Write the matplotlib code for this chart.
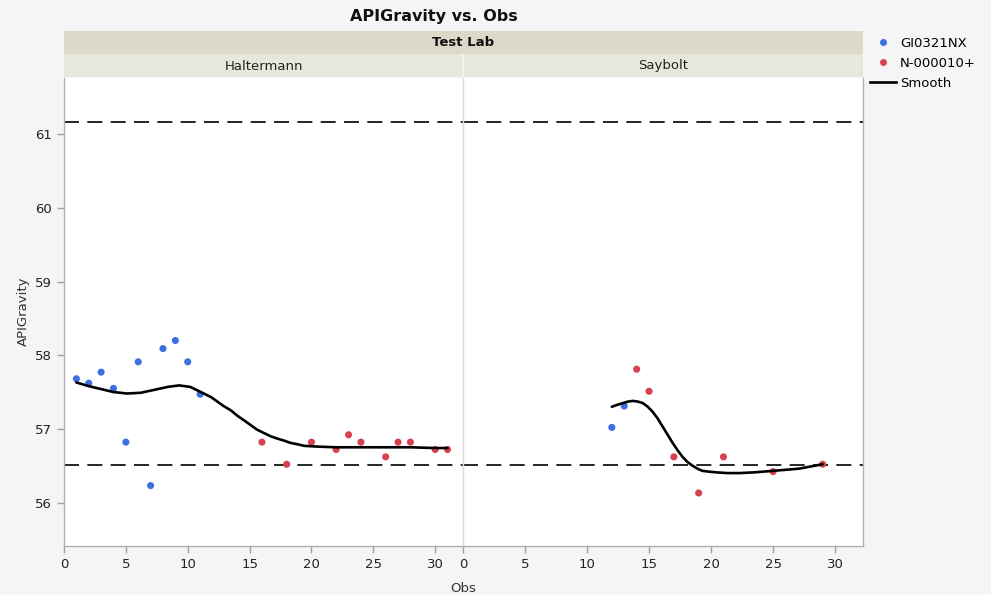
import matplotlib
matplotlib.use("Agg")
import matplotlib.pyplot as plt
from matplotlib.lines import Line2D
from matplotlib.patches import Rectangle

# ===== data =====
labs = ["Haltermann", "Saybolt"]
batches = ["GI0321NX", "N-000010+"]
colors = {"GI0321NX": "#3d6fe0", "N-000010+": "#d7404f"}

# Haltermann
halt_gi_obs = [1, 2, 3, 4, 5, 6, 7, 8, 9, 10, 11]
halt_gi_val = [57.68, 57.62, 57.77, 57.55, 56.82, 57.91, 56.23, 58.09, 58.20, 57.91, 57.47]
halt_n_obs = [16, 18, 20, 22, 23, 24, 26, 27, 28, 30, 31]
halt_n_val = [56.82, 56.52, 56.82, 56.72, 56.92, 56.82, 56.62, 56.82, 56.82, 56.72, 56.72]

# Saybolt
say_gi_obs = [12, 13]
say_gi_val = [57.02, 57.31]
say_n_obs = [14, 15, 17, 19, 21, 25, 29]
say_n_val = [57.81, 57.51, 56.62, 56.13, 56.62, 56.42, 56.52]

# smoother curves (read at points along the line)
halt_smooth_obs = [1, 2, 3, 4, 5.1, 6.2, 7.3, 8.4, 9.3, 10.2, 11.3, 11.9, 12.4, 12.9, 13.5,
                   14.0, 14.6, 15.1, 15.6, 16.2, 16.7, 17.2, 17.8, 18.3, 18.9, 19.4, 20.4,
                   22, 24, 26, 28, 30, 31]
halt_smooth_val = [57.63, 57.58, 57.54, 57.50, 57.48, 57.49, 57.53, 57.57, 57.59, 57.57,
                   57.48, 57.43, 57.37, 57.31, 57.25, 57.18, 57.11, 57.05, 56.99, 56.94,
                   56.90, 56.87, 56.84, 56.81, 56.79, 56.77, 56.76,
                   56.75, 56.75, 56.75, 56.75, 56.74, 56.74]
say_smooth_obs = [12, 12.5, 12.9, 13.3, 13.7, 14.1, 14.5, 14.9, 15.3, 15.7, 16.1, 16.5,
                  16.9, 17.3, 17.7, 18.1, 18.5, 18.9, 19.3, 19.8, 20.4, 21.3, 22.3,
                  23.5, 25, 27.1, 29]
say_smooth_val = [57.30, 57.33, 57.35, 57.37, 57.38, 57.37, 57.35, 57.30, 57.23, 57.14,
                  57.03, 56.92, 56.81, 56.71, 56.62, 56.55, 56.50, 56.46, 56.43, 56.42,
                  56.41, 56.40, 56.40, 56.41, 56.43, 56.46, 56.52]

ref_lines = [61.17, 56.51]

panel_points = {
    "Haltermann": [(halt_gi_obs, halt_gi_val, "GI0321NX"), (halt_n_obs, halt_n_val, "N-000010+")],
    "Saybolt": [(say_gi_obs, say_gi_val, "GI0321NX"), (say_n_obs, say_n_val, "N-000010+")],
}
panel_smooth = {
    "Haltermann": (halt_smooth_obs, halt_smooth_val),
    "Saybolt": (say_smooth_obs, say_smooth_val),
}

W, H = 991, 595
fig = plt.figure(figsize=(W / 100, H / 100), dpi=100)
fig.patch.set_facecolor("#f5f5f5")

def fx(px):
    return px / W

def fy(py):
    return 1 - py / H

top, bottom = 77.5, 546
axes_px = [(64, 463), (463, 863)]
axes = []
for i, (lab, (x0, x1)) in enumerate(zip(labs, axes_px)):
    ax = fig.add_axes([fx(x0), fy(bottom), fx(x1 - x0), (bottom - top) / H])
    ax.set_facecolor("white")
    ax.set_xlim(0, 32.25)
    ax.set_ylim(55.41, 61.77)
    ax.set_xticks([0, 5, 10, 15, 20, 25, 30])
    for s in ax.spines.values():
        s.set_color("#dddddd")
        s.set_linewidth(1)
    ax.spines["top"].set_visible(False)
    ax.spines["bottom"].set_color("#b0b0b0")
    if i == 0:
        ax.spines["left"].set_color("#b0b0b0")
        ax.set_yticks([56, 57, 58, 59, 60, 61])
        ax.set_ylabel("APIGravity", fontsize=9.5, color="#333333", labelpad=4)
    else:
        ax.spines["right"].set_color("#b0b0b0")
        ax.set_yticks([])
    ax.tick_params(axis="both", colors="#a0a0a0", labelcolor="#222222",
                   labelsize=9.5, length=5, width=1, direction="out")

    for yv in ref_lines:
        ax.axhline(yv, color="black", lw=1.2, dashes=(9, 5), zorder=2)
    for xs, ys, b in panel_points[lab]:
        ax.scatter(xs, ys, s=26, color=colors[b], edgecolors="none", zorder=3)
    sx, sy = panel_smooth[lab]
    ax.plot(sx, sy, color="black", lw=1.9, zorder=4, solid_capstyle="round",
            solid_joinstyle="round")
    axes.append(ax)

fig.text(fx(463), fy(588), "Obs", ha="center", va="center", fontsize=9.5, color="#333333")

# header bands
fig.patches.append(Rectangle((fx(64), fy(54)), fx(799), 23 / H, transform=fig.transFigure,
                             facecolor="#dcd9c9", edgecolor="none"))
fig.patches.append(Rectangle((fx(64), fy(77)), fx(799), 23 / H, transform=fig.transFigure,
                             facecolor="#e8e7dc", edgecolor="none"))
fig.lines.append(Line2D([fx(463), fx(463)], [fy(77), fy(55)], transform=fig.transFigure,
                        color="#f4f3ec", lw=1.5))
fig.text(fx(463), fy(42.5), "Test Lab", ha="center", va="center", fontsize=9.5,
         fontweight="bold", color="#111111")
for lab, (x0, x1) in zip(labs, axes_px):
    fig.text(fx((x0 + x1) / 2), fy(66), lab, ha="center", va="center", fontsize=9.5,
             color="#222222")

fig.text(fx(433.5), fy(16), "APIGravity vs. Obs", ha="center", va="center", fontsize=11.5,
         fontweight="bold", color="#111111")

handles = [Line2D([], [], ls="none", marker="o", ms=5, color=colors[b], mec="none") for b in batches]
handles.append(Line2D([], [], color="black", lw=1.9))
fig.legend(handles, batches + ["Smooth"], loc="upper left", bbox_to_anchor=(fx(870), fy(37)),
           frameon=False, fontsize=9.5, handlelength=1.97, handletextpad=0.3,
           labelspacing=0.52, borderaxespad=0, borderpad=0)

fig.savefig("out.png", dpi=100, facecolor=fig.get_facecolor())
